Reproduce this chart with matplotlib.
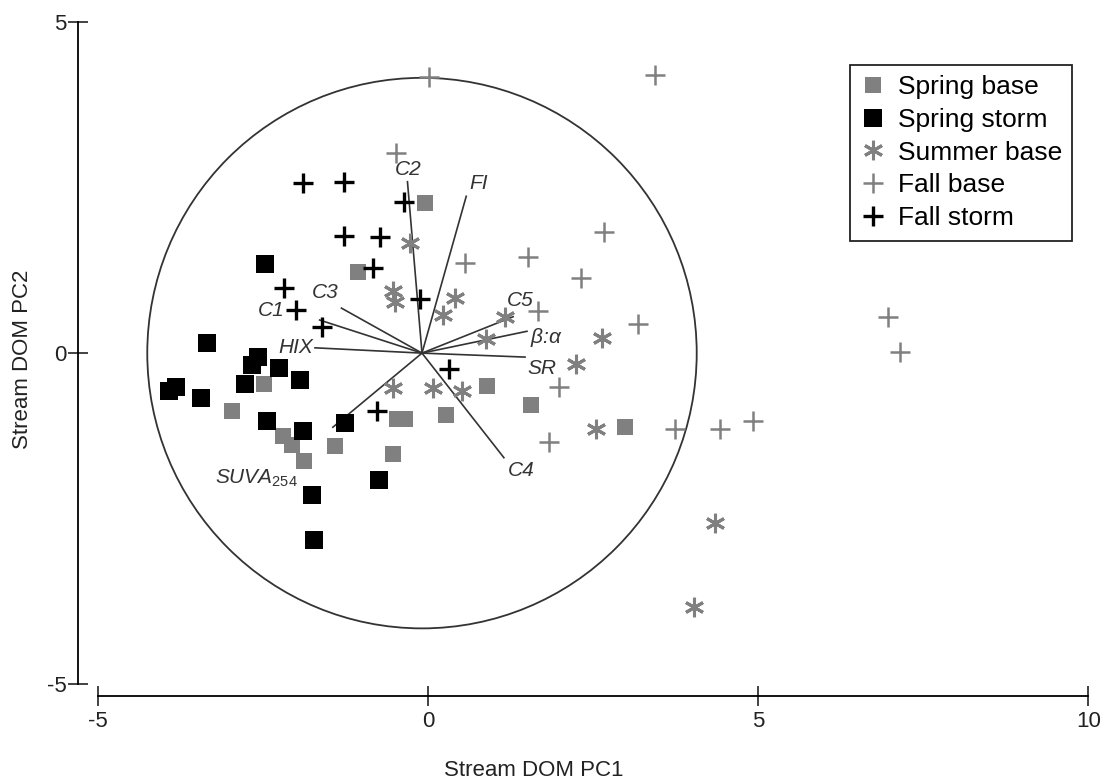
import matplotlib
matplotlib.use('Agg')
import matplotlib.pyplot as plt
from matplotlib.patches import Circle

plt.rcParams['font.family'] = ['Liberation Sans Narrow', 'Liberation Sans', 'DejaVu Sans']
plt.rcParams['mathtext.fontset'] = 'custom'
plt.rcParams['mathtext.it'] = 'Liberation Sans:italic'
plt.rcParams['mathtext.rm'] = 'Liberation Sans'

# Scores (PC1, PC2) per group
spring_base_x = [-0.04, -1.06, -2.49, -2.96, -2.19, -2.06, -1.88, -1.41, -0.53, -0.47, -0.35, 0.28, 0.89, 1.56, 2.98]
spring_base_y = [2.27, 1.23, -0.46, -0.88, -1.26, -1.39, -1.63, -1.40, -1.52, -1.00, -1.00, -0.93, -0.50, -0.78, -1.11]

spring_storm_x = [-2.46, -3.35, -2.57, -2.67, -2.25, -1.94, -2.77, -3.81, -3.92, -3.43, -2.44, -1.89, -1.26, -0.74, -1.76, -1.73]
spring_storm_y = [1.35, 0.16, -0.06, -0.18, -0.23, -0.41, -0.47, -0.51, -0.57, -0.68, -1.02, -1.18, -1.05, -1.92, -2.14, -2.83]

summer_base_x = [-0.27, -0.53, -0.50, 0.41, 0.23, 1.17, 0.88, 2.63, 2.24, -0.53, 0.08, 0.52, 2.54, 4.35, 4.03]
summer_base_y = [1.66, 0.94, 0.77, 0.83, 0.58, 0.55, 0.21, 0.23, -0.17, -0.52, -0.52, -0.57, -1.15, -2.57, -3.83]

fall_base_x = [0.01, 3.44, -0.49, 0.56, 1.52, 2.66, 2.32, 1.67, 3.18, 1.99, 1.84, 3.74, 4.43, 4.92, 6.96, 7.15]
fall_base_y = [4.17, 4.20, 3.02, 1.36, 1.46, 1.83, 1.13, 0.63, 0.44, -0.51, -1.34, -1.14, -1.15, -1.03, 0.55, 0.02]

fall_storm_x = [-1.89, -1.27, -0.36, -1.27, -0.73, -0.83, -2.18, -2.00, -1.61, -0.12, 0.32, -0.77]
fall_storm_y = [2.57, 2.59, 2.29, 1.77, 1.75, 1.28, 0.98, 0.65, 0.39, 0.82, -0.24, -0.87]

# Loadings (vector end points) and their labels
origin = (-0.09, 0.0)
circle_radius = 4.16
load_names = ['C2', 'FI', 'C5', r'$\beta$:$\alpha$', 'SR', 'C4', r'$SUVA_{254}$', 'HIX', 'C1', 'C3']
load_x = [-0.31, 0.58, 1.29, 1.50, 1.47, 1.15, -1.44, -1.71, -1.64, -1.31]
load_y = [2.59, 2.37, 0.55, 0.33, -0.06, -1.58, -1.12, 0.08, 0.50, 0.68]
label_x = [-0.30, 0.76, 1.39, 1.79, 1.73, 1.42, -2.59, -2.00, -2.38, -1.55]
label_y = [2.78, 2.57, 0.79, 0.24, -0.24, -1.78, -1.89, 0.09, 0.65, 0.91]

gray = '#808080'
ink = '#333333'

fig = plt.figure(figsize=(11.12, 7.84), dpi=100)
ax = fig.add_axes([0.0879, 0.1276, 0.8908, 0.844])

ax.add_patch(Circle(origin, circle_radius, fill=False, ec=ink, lw=1.3))
for i in range(len(load_names)):
    ax.plot([origin[0], load_x[i]], [origin[1], load_y[i]], color=ink, lw=1.2)
    ax.text(label_x[i], label_y[i], load_names[i], fontsize=15, style='italic',
            family=['Liberation Sans'], color=ink, ha='center', va='center')

ax.plot(spring_base_x, spring_base_y, linestyle='none', marker='s', markersize=12,
        color=gray, markeredgewidth=0, label='Spring base')
ax.plot(spring_storm_x, spring_storm_y, linestyle='none', marker='s', markersize=12.5,
        color='black', markeredgewidth=0, label='Spring storm')
ax.plot(summer_base_x, summer_base_y, linestyle='none', marker=(6, 2, 0), markersize=14,
        color=gray, markeredgewidth=2.2, label='Summer base')
ax.plot(fall_base_x, fall_base_y, linestyle='none', marker='+', markersize=15,
        color=gray, markeredgewidth=1.8, label='Fall base')
ax.plot(fall_storm_x, fall_storm_y, linestyle='none', marker='+', markersize=14,
        color='black', markeredgewidth=2.4, label='Fall storm')

ax.set_xlim(-5, 10)
ax.set_ylim(-5, 5)
ax.set_xticks([-5, 0, 5, 10])
ax.set_yticks([-5, 0, 5])
ax.set_xticklabels(['-5', '0', '5', '10'])
ax.set_yticklabels(['-5', '0', '5'])

for s in ['top', 'right']:
    ax.spines[s].set_visible(False)
ax.spines['left'].set_position(('outward', 14))
ax.spines['bottom'].set_position(('outward', 9))
ax.spines['left'].set_bounds(-5, 5)
ax.spines['bottom'].set_bounds(-5, 10)
ax.spines['left'].set_linewidth(1.3)
ax.spines['bottom'].set_linewidth(1.3)
ax.tick_params(direction='inout', length=15, width=1.2, labelsize=16, colors='#222222')
ax.tick_params(axis='y', pad=1)
ax.tick_params(axis='x', pad=3)

ax.set_xlabel('Stream DOM PC1', fontsize=16, color='#222222')
ax.set_ylabel('Stream DOM PC2', fontsize=16, color='#222222')
ax.xaxis.set_label_coords(0.44, -0.115)
ax.yaxis.set_label_coords(-0.065, 0.49)

leg = ax.legend(loc='upper right', bbox_to_anchor=(0.984, 0.936), borderaxespad=0,
                fancybox=False, framealpha=1, edgecolor='#222222', handlelength=0.9,
                handletextpad=0.5, labelspacing=0.33, borderpad=0.4,
                prop={'family': 'Liberation Sans', 'size': 19})
leg.get_frame().set_linewidth(1.3)

plt.savefig('out.png', dpi=100)
